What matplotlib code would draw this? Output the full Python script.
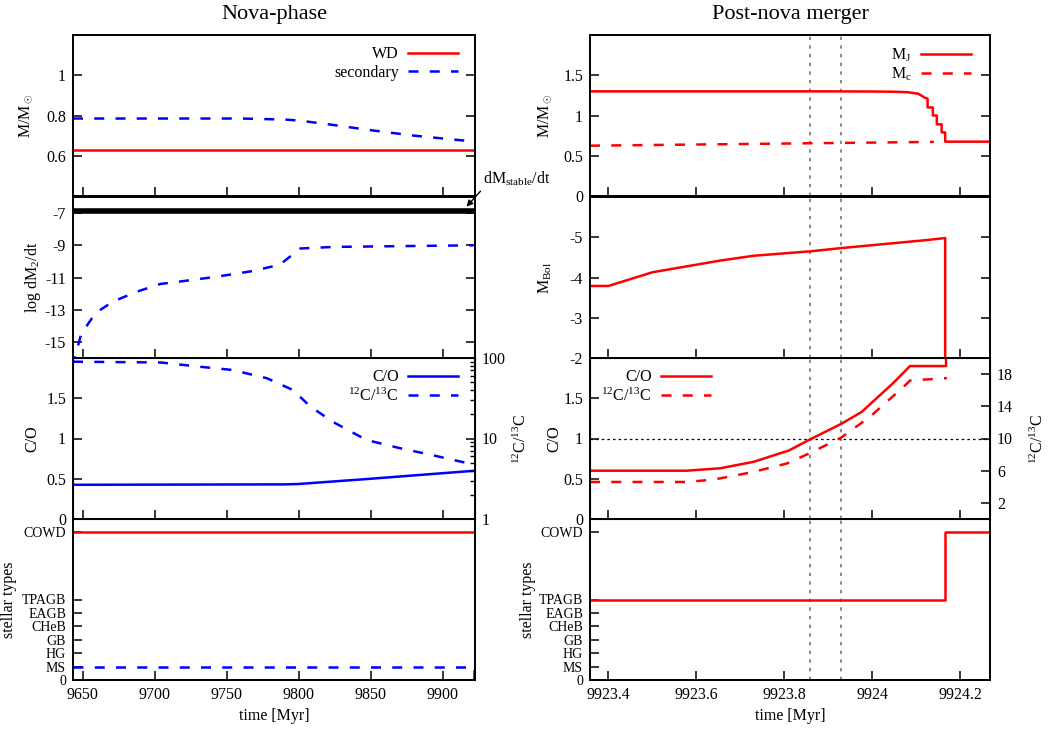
import numpy as np
import matplotlib
matplotlib.use("Agg")
import matplotlib.pyplot as plt
from matplotlib.ticker import FixedLocator, FuncFormatter, LogLocator, NullFormatter

plt.rcParams['font.family'] = ['Liberation Serif', 'DejaVu Serif']
plt.rcParams['mathtext.fontset'] = 'custom'
plt.rcParams['mathtext.rm'] = 'Liberation Serif'
plt.rcParams['mathtext.it'] = 'Liberation Serif:italic'
plt.rcParams['font.size'] = 11.5

# ---------------- Nova-phase (left column) ----------------
t_wd = [9643.3, 9922.4]
m_wd = [0.63, 0.63]
t_sec = [9643.3, 9700, 9760, 9790, 9800, 9820, 9850, 9880, 9922.4]
m_sec = [0.785, 0.785, 0.785, 0.78, 0.775, 0.757, 0.727, 0.70, 0.67]

t_mdot = [9643.3, 9644.5, 9649, 9659, 9671, 9687, 9704, 9722, 9743, 9768, 9787, 9801, 9824, 9921.5]
log_mdot2 = [-16.5, -16.0, -14.5, -13.2, -12.5, -11.9, -11.4, -11.2, -10.95, -10.6, -10.2, -9.2, -9.1, -9.0]
t_stable = [9643.3, 9922.4]
log_mdot_stable = [-6.88, -6.88]

t_co_l = [9643.3, 9790, 9800, 9850, 9922.4]
co_l = [0.425, 0.43, 0.435, 0.5, 0.6]
t_c12_l = [9643.3, 9704, 9731, 9754, 9778, 9796, 9808, 9824, 9847, 9870, 9893, 9922.4]
c12_l = [90, 88, 78, 71, 56, 40, 25, 16, 9.6, 7.6, 6.2, 4.7]

t_st_wd = [9643.3, 9922.4]
st_wd = [11, 11]
t_st_sec = [9643.3, 9922.0, 9922.0]
st_sec = [1, 1, -1]

# ---------------- Post-nova merger (right column) ----------------
t_mj = [9923.358, 9923.9, 9924.0, 9924.05, 9924.08, 9924.105, 9924.12, 9924.126, 9924.126,
        9924.138, 9924.138, 9924.147, 9924.147, 9924.158, 9924.158, 9924.166, 9924.166, 9924.268]
m_j = [1.30, 1.30, 1.298, 1.295, 1.29, 1.27, 1.22, 1.21, 1.10,
       1.10, 1.0, 1.0, 0.89, 0.89, 0.79, 0.79, 0.675, 0.675]
t_mc = [9923.358, 9924.14]
m_c = [0.625, 0.672]

t_mbol = [9923.358, 9923.4, 9923.5, 9923.654, 9923.73, 9923.859, 9923.929, 9924.124, 9924.166, 9924.166]
mbol = [-3.79, -3.79, -4.13, -4.42, -4.54, -4.65, -4.73, -4.93, -4.98, -1.0]

t_co_r = [9923.358, 9923.578, 9923.654, 9923.73, 9923.81, 9923.859, 9923.929, 9923.976, 9924.048,
          9924.086, 9924.168, 9924.168]
co_r = [0.6, 0.6, 0.63, 0.71, 0.85, 0.99, 1.18, 1.33, 1.69, 1.9, 1.9, 3.0]
t_c12_r = [9923.358, 9923.578, 9923.64, 9923.73, 9923.806, 9923.859, 9923.929, 9923.995, 9924.071,
           9924.086, 9924.17]
c12_r = [4.6, 4.6, 4.9, 5.85, 6.9, 8.2, 10.1, 12.7, 16.4, 17.2, 17.5]

t_st_r = [9923.358, 9924.166, 9924.166, 9924.268]
st_r = [6, 6, 11, 11]

t_marks = [9923.859, 9923.929]

type_ticks = [0, 1, 2, 3, 4, 5, 6, 11]
type_labels = ['0', 'MS', 'HG', 'GB', 'CHeB', 'EAGB', 'TPAGB', 'COWD']

xlim_l = (9643.3, 9922.4)
xlim_r = (9923.358, 9924.268)

DASH = (4, 4.5)
LW = 1.8
RED = '#ff0000'
BLUE = '#0000ff'

fig = plt.figure(figsize=(10.48, 7.33), dpi=100)
W, H = 1048.0, 733.0
row_top = [35, 197, 358, 519]
row_h = 161


def make_ax(x0, w, row):
    y0 = H - (row_top[row] + row_h)
    return fig.add_axes([x0 / W, y0 / H, w / W, row_h / H])


gfmt = FuncFormatter(lambda v, p: '%g' % v)


def style(ax, right=True):
    ax.tick_params(direction='in', length=6.5, width=1.1, top=False, right=right, pad=5)
    for s in ax.spines.values():
        s.set_linewidth(1.4)
    ax.yaxis.set_major_formatter(gfmt)


left = [make_ax(73, 402, r) for r in range(4)]
right = [make_ax(590, 400, r) for r in range(4)]

for ax in left:
    ax.set_xlim(*xlim_l)
    ax.xaxis.set_major_locator(FixedLocator([9650, 9700, 9750, 9800, 9850, 9900]))
for ax in right:
    ax.set_xlim(*xlim_r)
    ax.xaxis.set_major_locator(FixedLocator([9923.4, 9923.6, 9923.8, 9924.0, 9924.2]))
    for tm in t_marks:
        ax.axvline(tm, color='#777777', lw=1.2, ls=(0, (2, 3.2)), zorder=1)
for ax in left[:3] + right[:3]:
    ax.tick_params(labelbottom=False)

# left row 0: masses
ax = left[0]
style(ax)
ax.plot(t_wd, m_wd, color=RED, lw=LW, label='WD')
ax.plot(t_sec, m_sec, color=BLUE, lw=LW, dashes=DASH, label='secondary')
ax.set_ylim(0.4, 1.2)
ax.set_yticks([0.6, 0.8, 1.0])
ax.set_ylabel(r'M/M$_\odot$')
ax.legend(loc='upper right', frameon=False, markerfirst=False, handlelength=3.1,
          handletextpad=0.6, labelspacing=0.15, borderaxespad=0.3, bbox_to_anchor=(0.985, 1.0))

# left row 1: mass transfer
ax = left[1]
style(ax)
ax.plot(t_stable, log_mdot_stable, color='black', lw=4)
ax.plot(t_mdot, log_mdot2, color=BLUE, lw=LW, dashes=DASH)
ax.set_ylim(-16, -6)
ax.set_yticks([-15, -13, -11, -9, -7])
ax.set_ylabel(r'log dM$_2$/dt')
ax.annotate(r'dM$_{\rm stable}$/dt', xy=(9916.5, -6.6), xycoords='data',
            xytext=(483, H - 184), textcoords='figure pixels', ha='left', va='baseline',
            arrowprops=dict(arrowstyle='-|>', color='black', lw=1.0, shrinkA=0, shrinkB=0,
                            relpos=(0.0, 0.0), mutation_scale=9),
            annotation_clip=False)

# left row 2: abundances
ax = left[2]
style(ax, right=False)
h1, = ax.plot(t_co_l, co_l, color=BLUE, lw=LW, label='C/O')
ax.set_ylim(0, 2)
ax.set_yticks([0, 0.5, 1, 1.5])
ax.set_ylabel('C/O')
axb = ax.twinx()
axb.set_yscale('log')
h2, = axb.plot(t_c12_l, c12_l, color=BLUE, lw=LW, dashes=DASH, label=r'$^{12}$C/$^{13}$C')
axb.set_ylim(1, 100)
axb.yaxis.set_major_locator(FixedLocator([1, 10, 100]))
axb.yaxis.set_major_formatter(gfmt)
axb.yaxis.set_minor_locator(LogLocator(base=10, subs=np.arange(2, 10)))
axb.yaxis.set_minor_formatter(NullFormatter())
axb.tick_params(which='major', direction='in', length=6.5, width=1.1, pad=5)
axb.tick_params(which='minor', direction='in', length=3.5, width=1.0)
axb.set_ylabel(r'$^{12}$C/$^{13}$C')
axb.yaxis.set_label_coords(1.095, 0.5)
ax.legend(handles=[h1, h2], loc='upper right', frameon=False, markerfirst=False, handlelength=3.1,
          handletextpad=0.6, labelspacing=0.15, borderaxespad=0.3, bbox_to_anchor=(0.985, 1.0))

# left row 3: stellar types
ax = left[3]
style(ax, right=False)
ax.plot(t_st_wd, st_wd, color=RED, lw=LW)
ax.plot(t_st_sec, st_sec, color=BLUE, lw=LW, dashes=DASH)
ax.set_ylim(0, 12)
ax.set_yticks(type_ticks)
ax.set_yticklabels(type_labels, fontsize=10)
ax.set_ylabel('stellar types')
ax.set_xlabel('time [Myr]')

# right row 0: masses
ax = right[0]
style(ax)
ax.plot(t_mj, m_j, color=RED, lw=LW, label=r'M$_{\rm J}$')
ax.plot(t_mc, m_c, color=RED, lw=LW, dashes=DASH, label=r'M$_{\rm c}$')
ax.set_ylim(0, 2)
ax.set_yticks([0, 0.5, 1, 1.5])
ax.set_ylabel(r'M/M$_\odot$')
ax.legend(loc='upper right', frameon=False, markerfirst=False, handlelength=3.1,
          handletextpad=0.6, labelspacing=0.15, borderaxespad=0.3, bbox_to_anchor=(0.98, 1.0))

# right row 1: bolometric magnitude
ax = right[1]
style(ax)
ax.plot(t_mbol, mbol, color=RED, lw=LW)
ax.set_ylim(-2, -6)
ax.set_yticks([-2, -3, -4, -5])
ax.set_ylabel(r'M$_{\rm Bol}$')

# right row 2: abundances
ax = right[2]
style(ax, right=False)
ax.axhline(1.0, color='black', lw=0.9, ls=(0, (2, 2.5)), zorder=1)
h1, = ax.plot(t_co_r, co_r, color=RED, lw=LW, label='C/O')
ax.set_ylim(0, 2)
ax.set_yticks([0, 0.5, 1, 1.5])
ax.set_ylabel('C/O')
axb = ax.twinx()
h2, = axb.plot(t_c12_r, c12_r, color=RED, lw=LW, dashes=DASH, label=r'$^{12}$C/$^{13}$C')
axb.set_ylim(0, 20)
axb.set_yticks([2, 6, 10, 14, 18])
axb.tick_params(direction='in', length=6.5, width=1.1, pad=5)
axb.set_ylabel(r'$^{12}$C/$^{13}$C')
axb.yaxis.set_label_coords(1.1, 0.5)
ax.legend(handles=[h1, h2], loc='upper left', frameon=False, markerfirst=False, handlelength=3.1,
          handletextpad=0.6, labelspacing=0.15, borderaxespad=0.3, bbox_to_anchor=(0.0, 1.0))

# right row 3: stellar types
ax = right[3]
style(ax, right=False)
ax.plot(t_st_r, st_r, color=RED, lw=LW)
ax.set_ylim(0, 12)
ax.set_yticks(type_ticks)
ax.set_yticklabels(type_labels, fontsize=10)
ax.set_ylabel('stellar types')
ax.set_xlabel('time [Myr]')
ax.set_xticklabels(['9923.4', '9923.6', '9923.8', '9924', '9924.2'])

# label positions
for ax, xc in zip(left, [-0.095, -0.075, -0.08, -0.14]):
    ax.yaxis.set_label_coords(xc, 0.5)
for ax, xc in zip(right, [-0.09, -0.09, -0.07, -0.135]):
    ax.yaxis.set_label_coords(xc, 0.5)

fig.text(274 / W, 1 - 15 / H, 'Nova-phase', ha='center', va='center', fontsize=16)
fig.text(790 / W, 1 - 15 / H, 'Post-nova merger', ha='center', va='center', fontsize=16)

fig.savefig('out.png', dpi=100)
